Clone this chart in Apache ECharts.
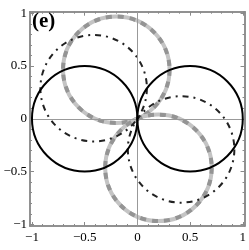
<!DOCTYPE html>
<html><head><meta charset="utf-8">
<script src="https://cdn.jsdelivr.net/npm/echarts@6/dist/echarts.min.js"></script>
<style>html,body{margin:0;padding:0;background:#fff}#c{width:249px;height:250px}</style>
</head><body><div id="c"></div>
<script>
// circle parameters: [centerX, centerY, radius]
const solidCircles = [[-0.5, 0, 0.5], [0.5, 0, 0.5]];
const grayCircles = [[-0.2, 0.465, 0.505], [0.2, -0.465, 0.505]];
const dashDotCircles = [[-0.415, 0.29, 0.505], [0.415, -0.29, 0.505]];
const majorTicks = [-1, -0.5, 0, 0.5, 1];
const minorTicks = [-1, -0.9, -0.8, -0.7, -0.6, -0.5, -0.4, -0.3, -0.2, -0.1, 0, 0.1, 0.2, 0.3, 0.4, 0.5, 0.6, 0.7, 0.8, 0.9, 1];
const panelLabel = '(e)';

const SERIF = '"Liberation Serif", "Times New Roman", Times, serif';
const XMIN = -1.019, XMAX = 1.017, YMIN = -1.016, YMAX = 1.015;
const fmt = v => (v < 0 ? '\u2212' + String(-v) : String(v));
const frameLine = { show: true, onZero: false, lineStyle: { color: '#8a8a8a', width: 1.5 } };

function xAx(pos, labels, ticks, len) {
  return {
    type: 'value', min: XMIN, max: XMAX, position: pos,
    axisLine: frameLine,
    axisTick: { show: true, inside: true, length: len, customValues: ticks, lineStyle: { color: '#8a8a8a', width: 1 } },
    axisLabel: labels ? { show: true, customValues: majorTicks, formatter: fmt, fontFamily: SERIF, fontSize: 13, color: '#000', margin: 5 } : { show: false },
    splitLine: { show: false }
  };
}
function yAx(pos, labels, ticks, len) {
  return {
    type: 'value', min: YMIN, max: YMAX, position: pos,
    axisLine: frameLine,
    axisTick: { show: true, inside: true, length: len, customValues: ticks, lineStyle: { color: '#8a8a8a', width: 1 } },
    axisLabel: labels ? { show: true, customValues: majorTicks, formatter: fmt, fontFamily: SERIF, fontSize: 13, color: '#000', margin: 3 } : { show: false },
    splitLine: { show: false }
  };
}

function circleSeries(data, styles, z) {
  return {
    type: 'custom', coordinateSystem: 'cartesian2d', xAxisIndex: 0, yAxisIndex: 0, z: z, silent: true,
    data: data,
    renderItem: function (params, api) {
      const c = api.coord([api.value(0), api.value(1)]);
      const r = api.size([api.value(2), api.value(2)]);
      const rr = (r[0] + r[1]) / 2;
      return {
        type: 'group',
        children: styles.map(s => ({
          type: 'circle',
          shape: { cx: c[0], cy: c[1], r: rr },
          style: Object.assign({ fill: 'none' }, s)
        }))
      };
    }
  };
}

const chart = echarts.init(document.getElementById('c'), null, { renderer: 'canvas' });
chart.setOption({
  animation: false,
  grid: { left: 30, right: 3.3, top: 11.7, bottom: 24 },
  xAxis: [xAx('bottom', true, majorTicks, 4), xAx('top', false, majorTicks, 4), xAx('bottom', false, minorTicks, 2), xAx('top', false, minorTicks, 2)],
  yAxis: [yAx('left', true, majorTicks, 4), yAx('right', false, majorTicks, 4), yAx('left', false, minorTicks, 2), yAx('right', false, minorTicks, 2)],
  graphic: [{
    type: 'text', left: 32, top: 11, z: 100,
    style: { text: panelLabel, fontFamily: SERIF, fontWeight: 'bold', fontSize: 21, fill: '#000' }
  }],
  series: [
    {
      type: 'line', data: [], xAxisIndex: 0, yAxisIndex: 0, z: 1,
      markLine: {
        silent: true, symbol: 'none', label: { show: false }, animation: false,
        lineStyle: { color: '#999', width: 1, type: 'solid' },
        data: [{ xAxis: 0 }, { yAxis: 0 }]
      }
    },
    circleSeries(grayCircles, [
      { stroke: '#c4c4c4', lineWidth: 4 },
      { stroke: '#949494', lineWidth: 4, lineDash: [6, 6] }
    ], 3),
    circleSeries(dashDotCircles, [
      { stroke: '#222', lineWidth: 2, lineDash: [6, 5, 2, 5] }
    ], 4),
    circleSeries(solidCircles, [
      { stroke: '#000', lineWidth: 2 }
    ], 5)
  ]
});
</script></body></html>
